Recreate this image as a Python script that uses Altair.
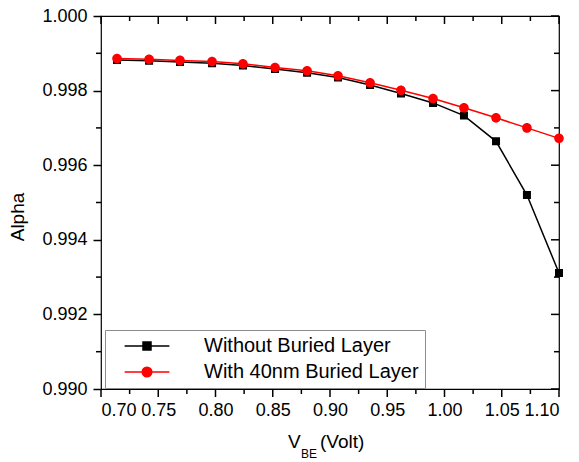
import altair as alt
import pandas as pd

# ---------------- data ----------------
vbe = [0.714, 0.742, 0.769, 0.797, 0.824, 0.852, 0.880, 0.907,
       0.935, 0.962, 0.990, 1.017, 1.045, 1.072, 1.100]
alpha_without = [0.99882, 0.99880, 0.99877, 0.99873, 0.99867, 0.99858, 0.99848, 0.99835,
                 0.99815, 0.99792, 0.99767, 0.99733, 0.99664, 0.99520, 0.99311]
alpha_with = [0.99886, 0.99884, 0.99881, 0.99878, 0.99872, 0.99862, 0.99853, 0.99840,
              0.99821, 0.99801, 0.99779, 0.99754, 0.99727, 0.99700, 0.99672]
series_names = ["Without Buried Layer", "With 40nm Buried Layer"]
series_colors = ["#000000", "#ff0000"]
x_major_ticks = [0.70, 0.75, 0.80, 0.85, 0.90, 0.95, 1.00, 1.05, 1.10]
x_minor_ticks = [0.725, 0.775, 0.825, 0.875, 0.925, 0.975, 1.025, 1.075]
y_major_ticks = [0.990, 0.992, 0.994, 0.996, 0.998, 1.000]
y_minor_ticks = [0.991, 0.993, 0.995, 0.997, 0.999]
x_domain = [0.70, 1.10]
y_domain = [0.990, 1.000]
x_title_parts = ["V", "BE", "(Volt)"]
y_title = "Alpha"

df = pd.DataFrame({
    "vbe": vbe + vbe,
    "alpha": alpha_without + alpha_with,
    "series": [series_names[0]] * len(vbe) + [series_names[1]] * len(vbe),
})
one = pd.DataFrame({"k": [0]})

FONT = "Liberation Sans"
W, H = 458, 373
MAJ, MIN = 8, 5
TW = 1.5

xs = alt.Scale(domain=x_domain, nice=False, zero=False)
ys = alt.Scale(domain=y_domain, nice=False, zero=False)

x_axis = alt.Axis(orient="bottom", values=x_major_ticks, format=".2f", labelPadding=12,
                  ticks=False, grid=False, domain=False, title=None)
y_axis = alt.Axis(orient="left", values=y_major_ticks, format=".3f", labelPadding=6,
                  ticks=True, tickSize=MAJ, tickWidth=TW, tickColor="black",
                  grid=False, domain=False, title=None)
x_enc = alt.X("vbe:Q", scale=xs, axis=x_axis)
y_enc = alt.Y("alpha:Q", scale=ys, axis=y_axis)

legend = alt.Legend(orient="none", legendX=4, legendY=314, title=None,
                    labelFontSize=20, labelFont=FONT, labelLimit=500,
                    fillColor="white", strokeColor="#8c8c8c",
                    padding=6, rowPadding=6, symbolSize=256,
                    symbolOffset=26, labelOffset=47)

base = alt.Chart(df)

lines = base.mark_line(strokeWidth=1.5).encode(
    x=x_enc, y=y_enc,
    color=alt.Color("series:N", scale=alt.Scale(domain=series_names, range=series_colors), legend=legend),
)

# marker shapes: a filled marker plus a line segment that only shows (stroked) in the legend
sq_path = "M-4.55,0M-2.8,0H2.8M-0.5,-0.5H0.5V0.5H-0.5Z"
ci_path = "M-4.55,0M-2.8,0H2.8M0.6,0A0.6,0.6,0,1,1,-0.6,0A0.6,0.6,0,1,1,0.6,0Z"
points = base.mark_point(filled=True, opacity=1, size=256).encode(
    x=x_enc, y=y_enc,
    shape=alt.Shape("series:N", scale=alt.Scale(domain=series_names, range=[sq_path, ci_path]),
                    legend=legend),
    fill=alt.Fill("series:N", scale=alt.Scale(domain=series_names, range=series_colors),
                  legend=legend),
)

# ticks placed by the scales: x ticks as tick marks, minor/mirrored y ticks as rules
xmaj = pd.DataFrame({"vbe": x_major_ticks})
xmin = pd.DataFrame({"vbe": x_minor_ticks})
ymaj = pd.DataFrame({"alpha": y_major_ticks})
ymin = pd.DataFrame({"alpha": y_minor_ticks})


def xtick(data, yc, length):
    return alt.Chart(data).mark_tick(orient="vertical", thickness=TW, size=length,
                                     color="black", opacity=1).encode(
        x=x_enc, y=alt.value(yc))


def ytick(data, x0, x1):
    return alt.Chart(data).mark_rule(color="black", strokeWidth=TW).encode(
        y=y_enc, x=alt.value(x0), x2=alt.value(x1))


ticks = [
    xtick(xmaj, H + MAJ / 2, MAJ),
    xtick(xmin, H + MIN / 2, MIN),
    xtick(xmaj, MAJ / 2, MAJ),
    xtick(xmin, MIN / 2, MIN),
    ytick(ymin, 0, -MIN),
    ytick(ymaj, W, W - MAJ),
    ytick(ymin, W, W - MIN),
]


def label(txt, px, py, size, angle=0, align="left"):
    return alt.Chart(one).mark_text(text=txt, align=align, baseline="alphabetic", angle=angle,
                                    font=FONT, fontSize=size, color="black").encode(
        x=alt.value(px), y=alt.value(py))


t_v = label(x_title_parts[0], 187, 432, 19)
t_be = label(x_title_parts[1], 200, 442, 12)
t_volt = label(x_title_parts[2], 219, 432, 19)
t_alpha = label(y_title, -77, 201, 19, angle=270, align="center")

chart = alt.layer(
    lines, points, *ticks, t_v, t_be, t_volt, t_alpha
).properties(
    width=W, height=H,
    autosize=alt.AutoSizeParams(type="none"),
    padding={"left": 101, "top": 16, "right": 20, "bottom": 73},
).configure_view(
    stroke="black", strokeWidth=1.2
).configure_axis(
    labelFont=FONT, labelFontSize=18, labelColor="black",
)

chart.save("out.html", embed_options={"renderer": "svg", "actions": False})
